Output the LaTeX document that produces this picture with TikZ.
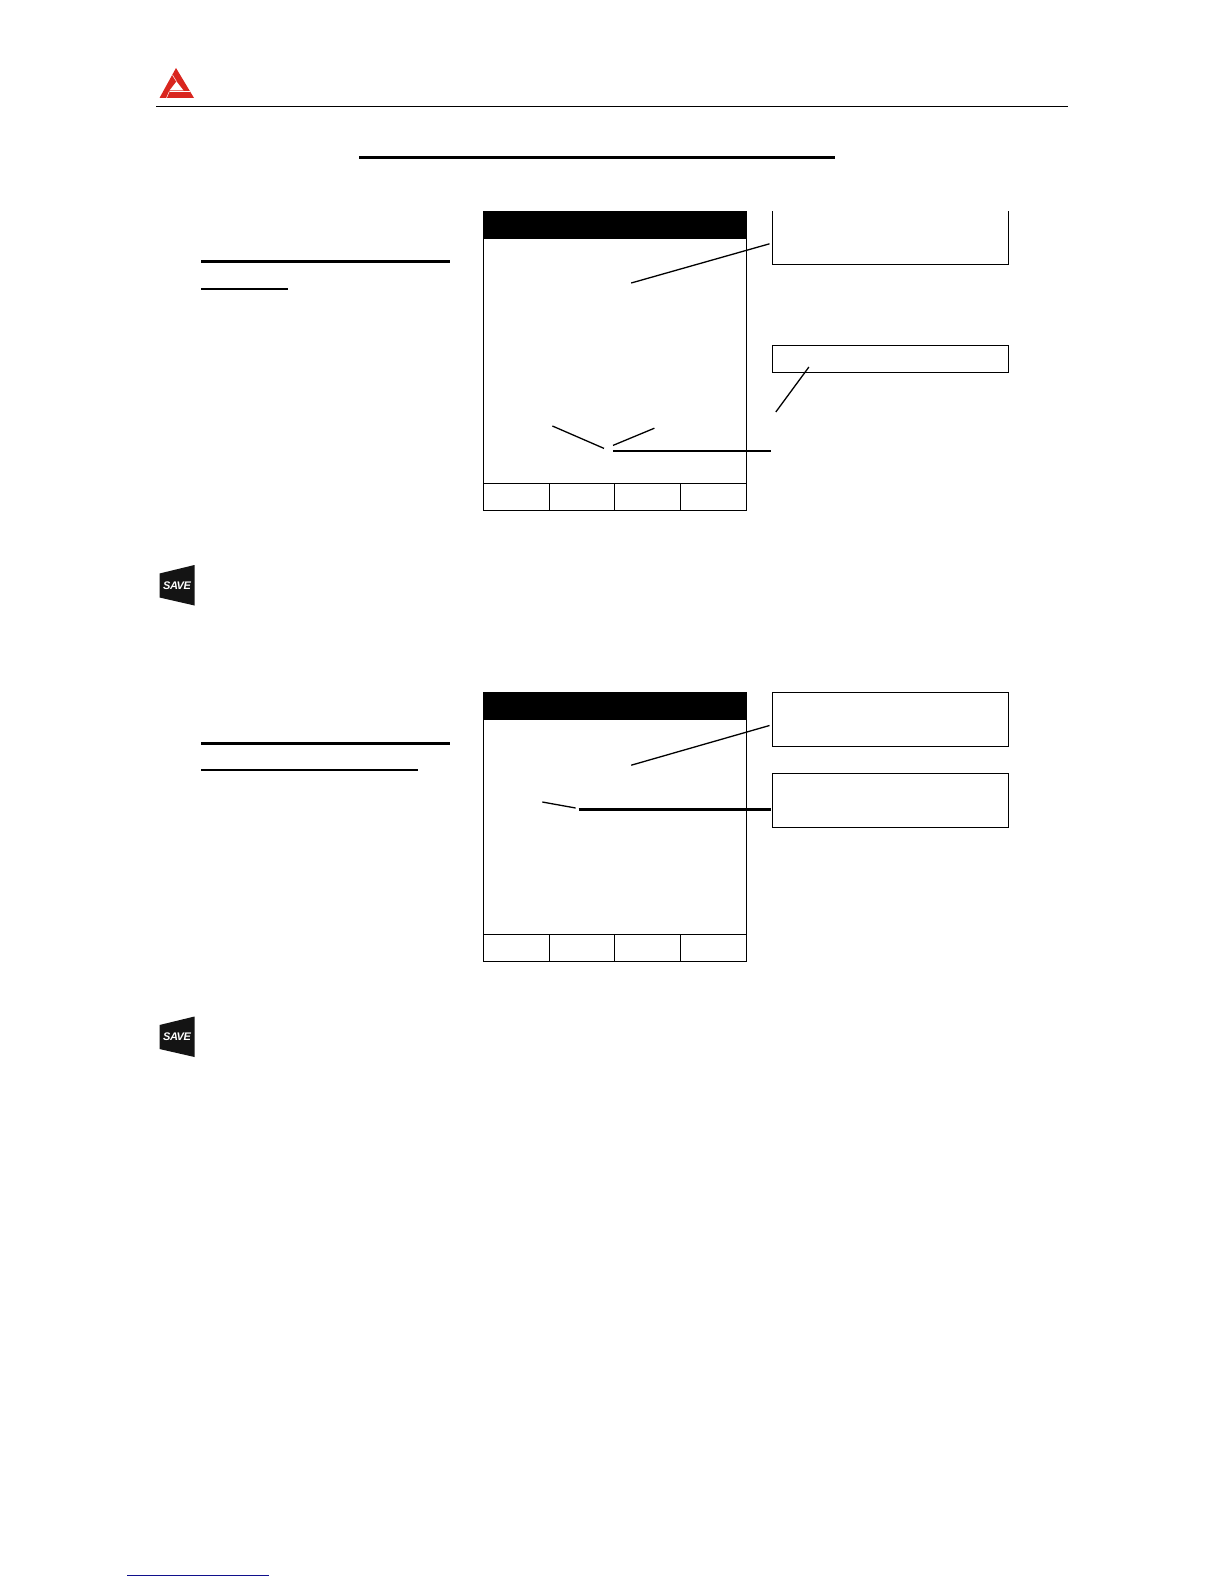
\documentclass[tikz,border=0pt]{standalone}
\usepackage{fontspec}
\setmainfont{Liberation Sans}
\definecolor{logored}{HTML}{D9261F}
\definecolor{linkblue}{HTML}{10108C}
\tikzset{
  px/.style={x=1pt,y=-1pt},
  panel/.style={draw=black,line width=1pt,fill=white,inner sep=0pt,outer sep=0pt,anchor=north west},
  headbar/.style={draw=black,fill=black,line width=.6pt,inner sep=0pt,outer sep=0pt,anchor=north west},
  leader/.style={draw=black,line width=1.3pt},
  heavyleader/.style={draw=black,line width=2.2pt},
  rulethick/.style={draw=black,line width=3pt},
  rulemed/.style={draw=black,line width=2pt},
  savebadge/.style={fill=black!92,draw=none},
  savetext/.style={text=white,font=\bfseries\itshape,inner sep=0pt},
}
\newcommand{\cellbox}[5]{\node[panel,minimum width=#4 pt,minimum height=#5 pt] (#1) at (#2,#3) {};}
\begin{document}
\begin{tikzpicture}[px]
\useasboundingbox[fill=white] (0,0) rectangle (1224,1584);

% logo
\coordinate (la) at (176,68);
\coordinate (lb) at (159.5,98);
\coordinate (lc) at (194,98);
\fill[logored] (la) -- (lb) -- (lc) -- cycle;
\fill[white] (176.5,81.5) -- (169.5,90.5) -- (183.5,90.5) -- cycle;
\draw[white,line width=.5pt] (172.5,75) -- (176.5,81.5);
\draw[white,line width=.5pt] (169.5,91) -- (166.5,98);
\draw[white,line width=.5pt] (169.5,91) -- (190,91);

% header rule and title rule
\coordinate (hl) at (156,106.3); \coordinate (hr) at (1068,106.3);
\draw[black,line width=1pt] (hl) -- (hr);
\coordinate (tl) at (359,157.3); \coordinate (tr) at (835,157.3);
\draw[rulethick] (tl) -- (tr);

% section 1 rules
\coordinate (u1a) at (201,261); \coordinate (u1b) at (450,261);
\coordinate (u2a) at (201,288.5); \coordinate (u2b) at (288,288.5);
\draw[rulethick] (u1a) -- (u1b);
\draw[rulemed] (u2a) -- (u2b);

% screen 1
\cellbox{sa}{483.7}{211.4}{262.6}{299}
\node[headbar,minimum width=262.6pt,minimum height=26.4pt] (sah) at (483.7,211.4) {};
\cellbox{sa1}{483.7}{483.2}{65.7}{27.2}
\cellbox{sa2}{549.4}{483.2}{64.6}{27.2}
\cellbox{sa3}{614.2}{483.2}{66.5}{27.2}
\cellbox{sa4}{680.7}{483.2}{65.6}{27.2}

% open-topped box 1
\coordinate (b1a) at (772.6,211.4);
\coordinate (b1b) at (772.6,264);
\coordinate (b1c) at (1008,264);
\coordinate (b1d) at (1008,211.4);
\draw[black,line width=1pt] (b1a) -- (b1b) -- (b1c) -- (b1d);
% box 2
\cellbox{bb}{772.6}{345.2}{235.4}{26.8}

% leaders section 1
\coordinate (p1) at (631.2,283); \coordinate (p2) at (769.5,243.8);
\coordinate (p3) at (808.9,367); \coordinate (p4) at (775.8,412);
\coordinate (p5) at (552.4,426); \coordinate (p6) at (604,448.4);
\coordinate (p7) at (613,445.4); \coordinate (p8) at (654.4,428.2);
\coordinate (p9) at (613,450.8); \coordinate (p10) at (770.8,450.8);
\draw[leader] (p1) -- (p2);
\draw[leader] (p3) -- (p4);
\draw[leader] (p5) -- (p6);
\draw[leader] (p7) -- (p8);
\draw[heavyleader] (p9) -- (p10);

% save badge 1
\fill[savebadge] (159.5,573.5) -- (194.5,565) -- (194.5,605.5) -- (159.5,597.5) -- cycle;
\node[savetext] (sv1t) at (177,585.5) {\fontsize{11}{11}\selectfont\addfontfeature{LetterSpace=-4}SAVE};

% section 2 rules
\coordinate (u3a) at (201,743); \coordinate (u3b) at (450,743);
\coordinate (u4a) at (201,770); \coordinate (u4b) at (417.5,770);
\draw[rulethick] (u3a) -- (u3b);
\draw[rulemed] (u4a) -- (u4b);

% screen 2
\cellbox{sb}{483.7}{692.4}{262.6}{268.6}
\node[headbar,minimum width=262.6pt,minimum height=27pt] (sbh) at (483.7,692.4) {};
\cellbox{sb1}{483.7}{934.8}{65.7}{26.2}
\cellbox{sb2}{549.4}{934.8}{64.6}{26.2}
\cellbox{sb3}{614.2}{934.8}{66.5}{26.2}
\cellbox{sb4}{680.7}{934.8}{65.6}{26.2}

% boxes 3, 4
\cellbox{bc}{772.6}{692.4}{235.4}{54}
\cellbox{bd}{772.6}{773.4}{235.4}{54}

% leaders section 2
\coordinate (q1) at (631.2,765.2); \coordinate (q2) at (769.5,725.5);
\coordinate (q3) at (542.3,802); \coordinate (q4) at (575.6,808);
\coordinate (q5) at (578.7,809.5); \coordinate (q6) at (770.8,809.5);
\draw[leader] (q1) -- (q2);
\draw[leader] (q3) -- (q4);
\draw[heavyleader] (q5) -- (q6);

% save badge 2
\fill[savebadge] (159.5,1025) -- (194.5,1016.5) -- (194.5,1057) -- (159.5,1049) -- cycle;
\node[savetext] (sv2t) at (177,1037) {\fontsize{11}{11}\selectfont\addfontfeature{LetterSpace=-4}SAVE};

% footer link rule
\coordinate (fa) at (127,1575); \coordinate (fb) at (269,1575);
\draw[linkblue,line width=1pt] (fa) -- (fb);
\end{tikzpicture}
\end{document}
